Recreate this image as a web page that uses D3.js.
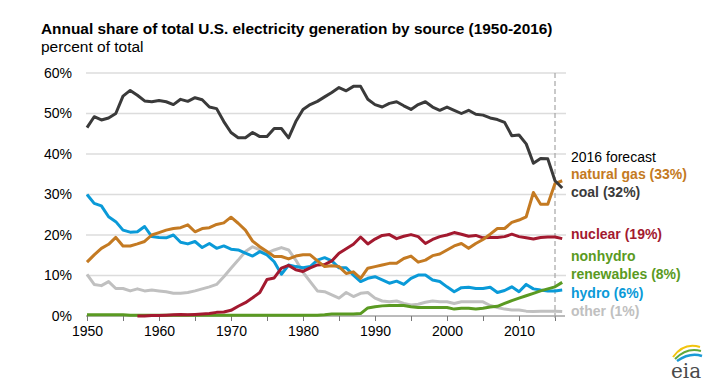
<!DOCTYPE html>
<html>
<head>
<meta charset="utf-8">
<script src="https://cdn.jsdelivr.net/npm/d3@7"></script>
<style>
  body { margin: 0; background: #fff; }
  svg { display: block; font-family: "Liberation Sans", Arial, sans-serif; }
</style>
</head>
<body>
<script>
//years on the x axis, 1950 through the 2016 forecast
var years = d3.range(1950, 2017);

//series values, percent of total generation, one per year
var coal = [
    46.5, 49.2, 48.4, 48.9, 50.0, 54.3, 55.7, 54.5, 53.1, 52.9,
    53.2, 52.9, 52.2, 53.5, 53.0, 53.9, 53.4, 51.6, 51.2, 48.0,
    45.3, 44.0, 44.0, 45.3, 44.3, 44.3, 46.3, 46.3, 44.0, 48.0,
    51.0, 52.2, 53.0, 54.1, 55.2, 56.4, 55.6, 56.7, 56.7, 53.5,
    52.2, 51.6, 52.5, 52.9, 51.9, 51.0, 52.2, 52.9, 51.6, 50.8,
    51.6, 50.8, 50.0, 50.8, 49.8, 49.6, 48.9, 48.5, 47.8, 44.5,
    44.7, 42.5, 37.7, 38.9, 38.8, 33.4, 31.6
];
var naturalGas = [
    13.3, 15.1, 16.7, 17.7, 19.4, 17.3, 17.3, 17.8, 18.4, 20.0,
    20.6, 21.2, 21.6, 21.8, 22.5, 20.8, 21.6, 21.8, 22.6, 23.0,
    24.4, 22.9, 21.2, 18.5, 17.1, 15.9, 14.7, 14.7, 14.1, 14.8,
    15.1, 15.1, 13.6, 12.2, 12.4, 12.2, 10.5, 10.9, 9.3, 11.8,
    12.2, 12.6, 13.0, 13.0, 14.2, 14.8, 13.3, 13.8, 14.9, 15.3,
    16.3, 17.3, 17.9, 16.7, 17.9, 18.9, 20.2, 21.6, 21.6, 23.1,
    23.7, 24.5, 30.5, 27.6, 27.6, 32.7, 33.4
];
var nuclear = [
    null, null, null, null, null, null, null, 0.0, 0.0, 0.1,
    0.1, 0.2, 0.3, 0.4, 0.3, 0.4, 0.5, 0.6, 0.9, 1.0,
    1.4, 2.4, 3.3, 4.5, 5.8, 9.0, 9.4, 11.8, 12.5, 11.4,
    11.0, 11.9, 12.6, 12.7, 13.6, 15.5, 16.6, 17.7, 19.5, 17.8,
    19.0, 19.9, 20.1, 19.1, 19.7, 20.1, 19.6, 17.9, 18.9, 19.6,
    20.0, 20.6, 20.2, 19.7, 19.9, 19.3, 19.4, 19.4, 19.6, 20.2,
    19.6, 19.3, 19.0, 19.4, 19.5, 19.5, 19.1
];
var nonhydro = [
    0.3, 0.3, 0.3, 0.3, 0.3, 0.3, 0.2, 0.2, 0.2, 0.2,
    0.2, 0.2, 0.2, 0.2, 0.2, 0.2, 0.2, 0.2, 0.2, 0.2,
    0.2, 0.2, 0.2, 0.2, 0.2, 0.2, 0.2, 0.2, 0.2, 0.2,
    0.2, 0.2, 0.2, 0.3, 0.5, 0.5, 0.5, 0.5, 0.6, 2.0,
    2.3, 2.5, 2.6, 2.6, 2.6, 2.3, 2.1, 2.1, 2.1, 2.1,
    2.1, 1.7, 1.9, 1.9, 1.7, 1.9, 2.2, 2.4, 3.1, 3.8,
    4.4, 5.0, 5.6, 6.2, 6.7, 7.2, 8.3
];
var hydro = [
    30.0, 27.8, 27.2, 24.5, 23.3, 21.2, 20.7, 20.8, 22.1, 19.6,
    19.4, 19.3, 20.0, 18.2, 17.8, 18.4, 16.9, 17.9, 16.7, 17.3,
    16.5, 16.3, 15.5, 14.8, 15.9, 15.1, 13.4, 10.3, 12.6, 12.2,
    11.9, 12.2, 13.8, 14.4, 13.6, 11.9, 11.9, 10.1, 8.5, 9.3,
    9.7, 8.9, 8.1, 8.6, 7.8, 9.3, 10.1, 10.1, 8.9, 8.5,
    7.2, 6.0, 7.0, 7.1, 6.8, 6.8, 7.1, 5.8, 6.3, 7.2,
    6.0, 7.8, 6.7, 6.4, 6.2, 6.2, 6.4
];
var other = [
    10.3, 7.8, 7.5, 8.5, 6.8, 6.8, 6.2, 6.7, 6.2, 6.4,
    6.2, 6.0, 5.6, 5.6, 5.8, 6.2, 6.7, 7.2, 7.8, 9.7,
    11.8, 13.8, 15.9, 17.1, 16.3, 15.5, 16.3, 16.9, 16.3, 13.8,
    10.8, 8.5, 6.2, 6.0, 5.2, 4.4, 5.8, 4.8, 5.6, 5.8,
    4.4, 3.7, 3.5, 3.7, 3.1, 2.7, 2.9, 3.4, 3.7, 3.5,
    3.5, 3.1, 3.5, 3.5, 3.5, 3.5, 2.6, 2.1, 1.7, 1.5,
    1.5, 1.2, 1.1, 1.2, 1.2, 1.2, 1.1
];

//series names and their end labels
var seriesNames = ["other", "hydro", "nonhydro", "nuclear", "naturalGas", "coal"];
var seriesLabels = {
    naturalGas: ["natural gas (33%)"],
    coal: ["coal (32%)"],
    nuclear: ["nuclear (19%)"],
    nonhydro: ["nonhydro", "renewables (8%)"],
    hydro: ["hydro (6%)"],
    other: ["other (1%)"]
};
var yTicks = [0, 10, 20, 30, 40, 50, 60];
var forecastYear = 2015; //last year of history, dashed line

//styles kept apart from the data
var colors = {
    coal: "#3a3a3a",
    naturalGas: "#c47a22",
    nuclear: "#a3192f",
    nonhydro: "#5a9a22",
    hydro: "#0a9ad8",
    other: "#c0c0c0"
};
var labelY = {
    naturalGas: 179,
    coal: 197,
    nuclear: 239,
    nonhydro: 261,
    hydro: 298,
    other: 316
};

var values = {
    coal: coal,
    naturalGas: naturalGas,
    nuclear: nuclear,
    nonhydro: nonhydro,
    hydro: hydro,
    other: other
};

var w = 720, h = 385;

var svg = d3.select("body")
    .append("svg")
    .attr("width", w)
    .attr("height", h);

//scales
var x = d3.scaleLinear()
    .domain([1950, 2016])
    .range([87, 562.2]);

var y = d3.scaleLinear()
    .domain([0, 60])
    .range([316, 73]);

//title block
svg.append("text")
    .attr("x", 41)
    .attr("y", 34)
    .style("font-family", "'Liberation Sans Narrow', 'Arial Narrow', sans-serif")
    .style("font-weight", "bold")
    .style("font-size", "15.4px")
    .style("fill", "#000")
    .text("Annual share of total U.S. electricity generation by source (1950-2016)");

svg.append("text")
    .attr("x", 41)
    .attr("y", 52)
    .style("font-family", "'Liberation Sans Narrow', 'Arial Narrow', sans-serif")
    .style("font-size", "15.5px")
    .style("fill", "#000")
    .text("percent of total");

//horizontal gridlines
svg.append("g")
    .attr("class", "grid")
    .selectAll("line")
    .data(yTicks.filter(function(d){ return d > 0; }))
    .enter()
    .append("line")
    .attr("x1", 86)
    .attr("x2", 566)
    .attr("y1", function(d){ return y(d); })
    .attr("y2", function(d){ return y(d); })
    .style("stroke", "#dcdcdc")
    .style("stroke-width", 1.5);

//y axis labels
var yAxis = d3.axisLeft(y)
    .tickValues(yTicks)
    .tickSize(0)
    .tickPadding(0)
    .tickFormat(function(d){ return d + "%"; });

var yAxisG = svg.append("g")
    .attr("class", "y axis")
    .attr("transform", "translate(72,0)")
    .call(yAxis);
yAxisG.select(".domain").remove();
yAxisG.selectAll("text")
    .style("font-family", "'Liberation Sans', Arial, sans-serif")
    .style("font-size", "14px")
    .style("fill", "#000");

//x axis with ticks every five years, labels every ten
var xAxis = d3.axisBottom(x)
    .tickValues(d3.range(1950, 2016, 5))
    .tickSize(5)
    .tickPadding(5)
    .tickSizeOuter(0)
    .tickFormat(function(d){ return d % 10 === 0 ? d : ""; });

var xAxisG = svg.append("g")
    .attr("class", "x axis")
    .attr("transform", "translate(0," + y(0) + ")")
    .call(xAxis);
xAxisG.select(".domain")
    .attr("d", "M86,0H565")
    .style("stroke", "#777");
xAxisG.selectAll("line").style("stroke", "#777");
xAxisG.selectAll("text")
    .style("font-family", "'Liberation Sans', Arial, sans-serif")
    .style("font-size", "14px")
    .style("fill", "#000");

//dashed forecast divider
svg.append("line")
    .attr("x1", x(forecastYear))
    .attr("x2", x(forecastYear))
    .attr("y1", y(60))
    .attr("y2", y(0) + 5)
    .style("stroke", "#a6a6a6")
    .style("stroke-width", 1.2)
    .style("stroke-dasharray", "5,3");

//line generator
var line = d3.line()
    .defined(function(d){ return d.v !== null; })
    .x(function(d){ return x(d.year); })
    .y(function(d){ return y(d.v); });

svg.selectAll(".series")
    .data(seriesNames)
    .enter()
    .append("path")
    .attr("class", "series")
    .attr("d", function(name){
        return line(years.map(function(yr, i){
            return { year: yr, v: values[name][i] };
        }));
    })
    .style("fill", "none")
    .style("stroke", function(name){ return colors[name]; })
    .style("stroke-width", 3)
    .style("stroke-linejoin", "round");

//end labels
svg.append("text")
    .attr("x", 571)
    .attr("y", 162)
    .style("font-size", "14px")
    .style("fill", "#000")
    .text("2016 forecast");

var labels = svg.selectAll(".endLabel")
    .data(seriesNames)
    .enter()
    .append("text")
    .attr("class", "endLabel")
    .attr("y", function(name){ return labelY[name]; })
    .style("font-size", "14px")
    .style("font-weight", "bold")
    .style("fill", function(name){ return colors[name]; });

labels.selectAll("tspan")
    .data(function(name){ return seriesLabels[name]; })
    .enter()
    .append("tspan")
    .attr("x", 571)
    .attr("dy", function(d, i){ return i === 0 ? 0 : 18; })
    .text(function(d){ return d; });

//eia logo
var logo = svg.append("g").attr("class", "logo");
logo.append("path")
    .attr("d", "M673,357 Q684,342 700,347")
    .style("fill", "none")
    .style("stroke", "#f2c40e")
    .style("stroke-width", 2);
logo.append("path")
    .attr("d", "M675,359 Q687,347 701,351")
    .style("fill", "none")
    .style("stroke", "#62a83a")
    .style("stroke-width", 2);
logo.append("path")
    .attr("d", "M677,361 Q690,352 702,356")
    .style("fill", "none")
    .style("stroke", "#1a9ad6")
    .style("stroke-width", 2.5);
logo.append("text")
    .attr("x", 686)
    .attr("y", 378)
    .attr("text-anchor", "middle")
    .style("font-family", "'DejaVu Serif', 'Liberation Serif', serif")
    .style("font-size", "20px")
    .style("fill", "#4a4a4a")
    .text("eia");
</script>
</body>
</html>
